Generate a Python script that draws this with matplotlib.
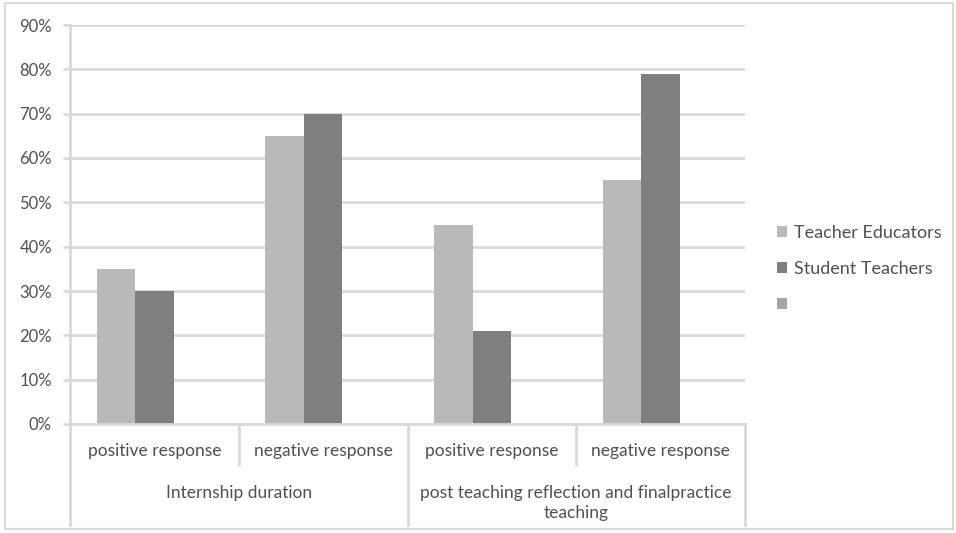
import matplotlib
matplotlib.use('Agg')
import matplotlib.pyplot as plt
from matplotlib.patches import Patch, Rectangle
import numpy as np

plt.rcParams['font.family'] = ['Lato', 'DejaVu Sans']

# response categories and the two survey groups
categories = ['positive response', 'negative response', 'positive response', 'negative response']
groups = ['Internship duration', 'post teaching reflection and finalpractice\nteaching']
series_names = ['Teacher Educators', 'Student Teachers', '']
teacher_educators = [35, 65, 45, 55]
student_teachers = [30, 70, 21, 79]
empty_series = [0, 0, 0, 0]
colors = ['#b9b9bb', '#7f7f81', '#a5a5a5']

grid_col = '#d9d9d9'
text_col = '#505050'

fig = plt.figure(figsize=(9.56, 5.33), dpi=100)
ax = fig.add_axes([70 / 956, 109 / 533, 675 / 956, 399 / 533])

x = np.arange(len(categories))
w = 0.228
for i, vals in enumerate([teacher_educators, student_teachers, empty_series]):
    ax.bar(x + (i - 1) * w, vals, width=w, color=colors[i], zorder=3)

ax.set_xlim(-0.5, 3.5)
ax.set_ylim(0, 90)
ax.set_yticks(range(0, 91, 10))
ax.set_yticklabels([f'{v}%' for v in range(0, 91, 10)], color=text_col, fontsize=12)
ax.yaxis.grid(True, color=grid_col, linewidth=2, zorder=0)
ax.tick_params(axis='y', length=5, width=2, color=grid_col, pad=8)
ax.set_xticks([])
for s in ['top', 'right', 'bottom', 'left']:
    ax.spines[s].set_visible(False)

# axis line and category dividers
tr = ax.get_xaxis_transform()
ax.plot([-0.5, 3.5], [0, 0], transform=tr, color=grid_col, lw=2, clip_on=False, zorder=4)
ax.plot([-0.5, -0.5], [1, -0.253], transform=tr, color=grid_col, lw=2, clip_on=False)
for xd in [1.5, 3.5]:
    ax.plot([xd, xd], [0, -0.253], transform=tr, color=grid_col, lw=2, clip_on=False)
for xd in [0.5, 2.5]:
    ax.plot([xd, xd], [0, -0.103], transform=tr, color=grid_col, lw=2, clip_on=False)

for xi, lab in zip(x, categories):
    ax.text(xi, -0.068, lab, transform=tr, ha='center', va='center', color=text_col, fontsize=12.5)
for gx, lab in zip([0.5, 2.5], groups):
    ax.text(gx, -0.153, lab, transform=tr, ha='center', va='top', color=text_col, fontsize=12.5,
            linespacing=1.3)

handles = [Patch(facecolor=c, edgecolor='none') for c in colors]
fig.legend(handles, series_names, loc='center left', bbox_to_anchor=(761 / 956, 1 - 269 / 533),
           frameon=False, fontsize=13, labelcolor=text_col, handlelength=0.55, handleheight=0.55,
           handletextpad=0.4, labelspacing=1.12)

fig.patches.append(Rectangle((5 / 956, 4 / 533), 948 / 956, 526 / 533, transform=fig.transFigure,
                             fill=False, edgecolor=grid_col, lw=1.5))

fig.savefig('out.png', dpi=100)
